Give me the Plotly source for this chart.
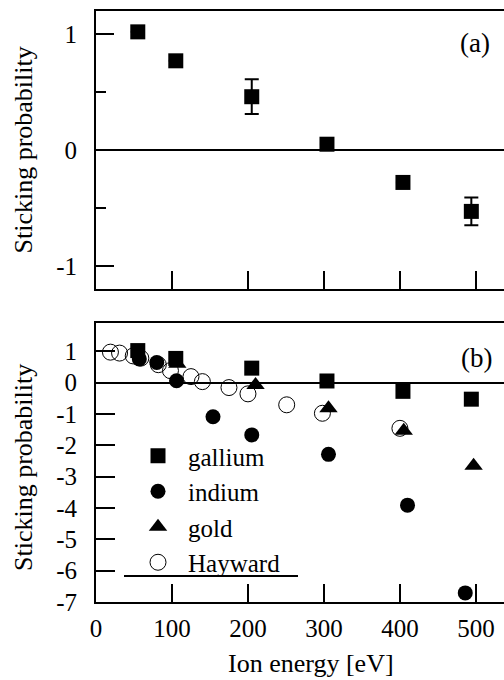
import plotly.graph_objects as go

# ---- data ----
ga_x = [55, 105, 205, 304, 404, 494]
ga_y = [1.02, 0.77, 0.46, 0.05, -0.28, -0.53]
ga_err = [None, None, 0.15, None, None, 0.12]

in_x = [57, 80, 106, 154, 205, 306, 410, 486]
in_y = [0.75, 0.64, 0.06, -1.09, -1.67, -2.29, -3.91, -6.71]

au_x = [107, 210, 306, 405, 497]
au_y = [0.6, -0.08, -0.82, -1.54, -2.65]

hay_x = [19, 31, 49, 59, 82, 98, 125, 140, 175, 200, 251, 298, 400]
hay_y = [0.97, 0.94, 0.85, 0.78, 0.57, 0.38, 0.19, 0.03, -0.16, -0.36, -0.71, -0.98, -1.46]

x_ticks = [0, 100, 200, 300, 400, 500]
ya_ticks = [-1, 0, 1]
yb_ticks = [1, 0, -1, -2, -3, -4, -5, -6, -7]
ya_labels = [str(v) for v in ya_ticks]
yb_labels = [str(v) for v in yb_ticks]

FONT = "Liberation Serif"
W, H = 504, 680
ML, MR, MT, MB = 96, 0, 11, 78
PH = H - MT - MB

def py(p):  # pixel y -> paper y
    return (H - MB - p) / PH

def px(p):
    return (p - ML) / (W - ML - MR)

fig = go.Figure()

# Hayward first (drawn underneath)
fig.add_trace(go.Scatter(x=hay_x, y=hay_y, mode="markers", name="Hayward",
                         legendrank=4, xaxis="x2", yaxis="y2",
                         marker=dict(symbol="circle-open", size=16, color="black",
                                     line=dict(width=1, color="black"))))
fig.add_trace(go.Scatter(x=ga_x, y=ga_y, mode="markers", name="gallium",
                         legendrank=1, xaxis="x2", yaxis="y2",
                         marker=dict(symbol="square", size=15, color="black")))
fig.add_trace(go.Scatter(x=in_x, y=in_y, mode="markers", name="indium",
                         legendrank=2, xaxis="x2", yaxis="y2",
                         marker=dict(symbol="circle", size=15, color="black")))
fig.add_trace(go.Scatter(x=au_x, y=au_y, mode="markers", name="gold",
                         legendrank=3, xaxis="x2", yaxis="y2",
                         marker=dict(symbol="triangle-up", size=16, color="black")))

# panel (a)
fig.add_trace(go.Scatter(x=ga_x, y=ga_y, mode="markers", showlegend=False,
                         xaxis="x", yaxis="y",
                         marker=dict(symbol="square", size=15, color="black"),
                         error_y=dict(type="data", array=ga_err, visible=True,
                                      color="black", thickness=2, width=7)))

common_x = dict(range=[0, 537], showline=True, linecolor="black", linewidth=2,
                mirror=True, ticks="inside", ticklen=18, tickwidth=2,
                tickcolor="black", showgrid=False, zeroline=False,
                tickfont=dict(family=FONT, size=25, color="black"))

fig.update_layout(
    width=W, height=H,
    margin=dict(l=ML, r=MR, t=MT, b=MB),
    paper_bgcolor="white", plot_bgcolor="white",
    font=dict(family=FONT, color="black"),
    xaxis=dict(**common_x, domain=[0, 1], anchor="y",
               tickvals=x_ticks[1:], showticklabels=False),
    yaxis=dict(domain=[py(289), 1], anchor="x", range=[-1.2, 1.2],
               showline=True, linecolor="black", linewidth=2, mirror=False,
               ticks="inside", ticklen=18, tickwidth=2, tickcolor="black",
               tickvals=ya_ticks, ticktext=ya_labels, ticklabelstandoff=12,
               minor=dict(dtick=0.5, ticks="inside", ticklen=10, tickwidth=2,
                          tickcolor="black", showgrid=False),
               showgrid=False, zeroline=True, zerolinecolor="black", zerolinewidth=2,
               tickfont=dict(family=FONT, size=25, color="black")),
    xaxis2=dict(**common_x, domain=[0, 1], anchor="y2",
                tickvals=x_ticks, ticktext=[str(v) for v in x_ticks],
                ticklabelstandoff=3),
    yaxis2=dict(domain=[0, py(323)], anchor="x2", range=[-7, 1.9],
                showline=True, linecolor="black", linewidth=2, mirror=False,
                ticks="inside", ticklen=19, tickwidth=2, tickcolor="black",
                tickvals=yb_ticks, ticktext=yb_labels, ticklabelstandoff=12,
                showgrid=False, zeroline=True, zerolinecolor="black", zerolinewidth=2,
                tickfont=dict(family=FONT, size=25, color="black")),
    legend=dict(x=px(128), y=py(433), xanchor="left", yanchor="top",
                bgcolor="rgba(0,0,0,0)", borderwidth=0,
                font=dict(family=FONT, size=25, color="black"),
                itemwidth=50, tracegroupgap=0),
    showlegend=True,
)

fig.add_annotation(text="Sticking probability", xref="paper", yref="paper",
                   x=px(23), y=py(150.5), textangle=-90, showarrow=False,
                   xanchor="center", yanchor="middle",
                   font=dict(family=FONT, size=26, color="black"))
fig.add_annotation(text="Sticking probability", xref="paper", yref="paper",
                   x=px(23), y=py(468), textangle=-90, showarrow=False,
                   xanchor="center", yanchor="middle",
                   font=dict(family=FONT, size=26, color="black"))
fig.add_annotation(text="Ion energy [eV]", xref="paper", yref="paper",
                   x=px(311), y=py(663), showarrow=False,
                   xanchor="center", yanchor="middle",
                   font=dict(family=FONT, size=26, color="black"))
fig.add_annotation(text="(a)", xref="paper", yref="paper",
                   x=px(475), y=py(43), showarrow=False,
                   xanchor="center", yanchor="middle",
                   font=dict(family=FONT, size=27, color="black"))
fig.add_annotation(text="(b)", xref="paper", yref="paper",
                   x=px(476), y=py(358), showarrow=False,
                   xanchor="center", yanchor="middle",
                   font=dict(family=FONT, size=27, color="black"))

fig.add_shape(type="line", xref="paper", yref="paper",
              x0=px(124), x1=px(298), y0=py(576), y1=py(576),
              line=dict(color="black", width=2))

fig.write_html("out.html")
